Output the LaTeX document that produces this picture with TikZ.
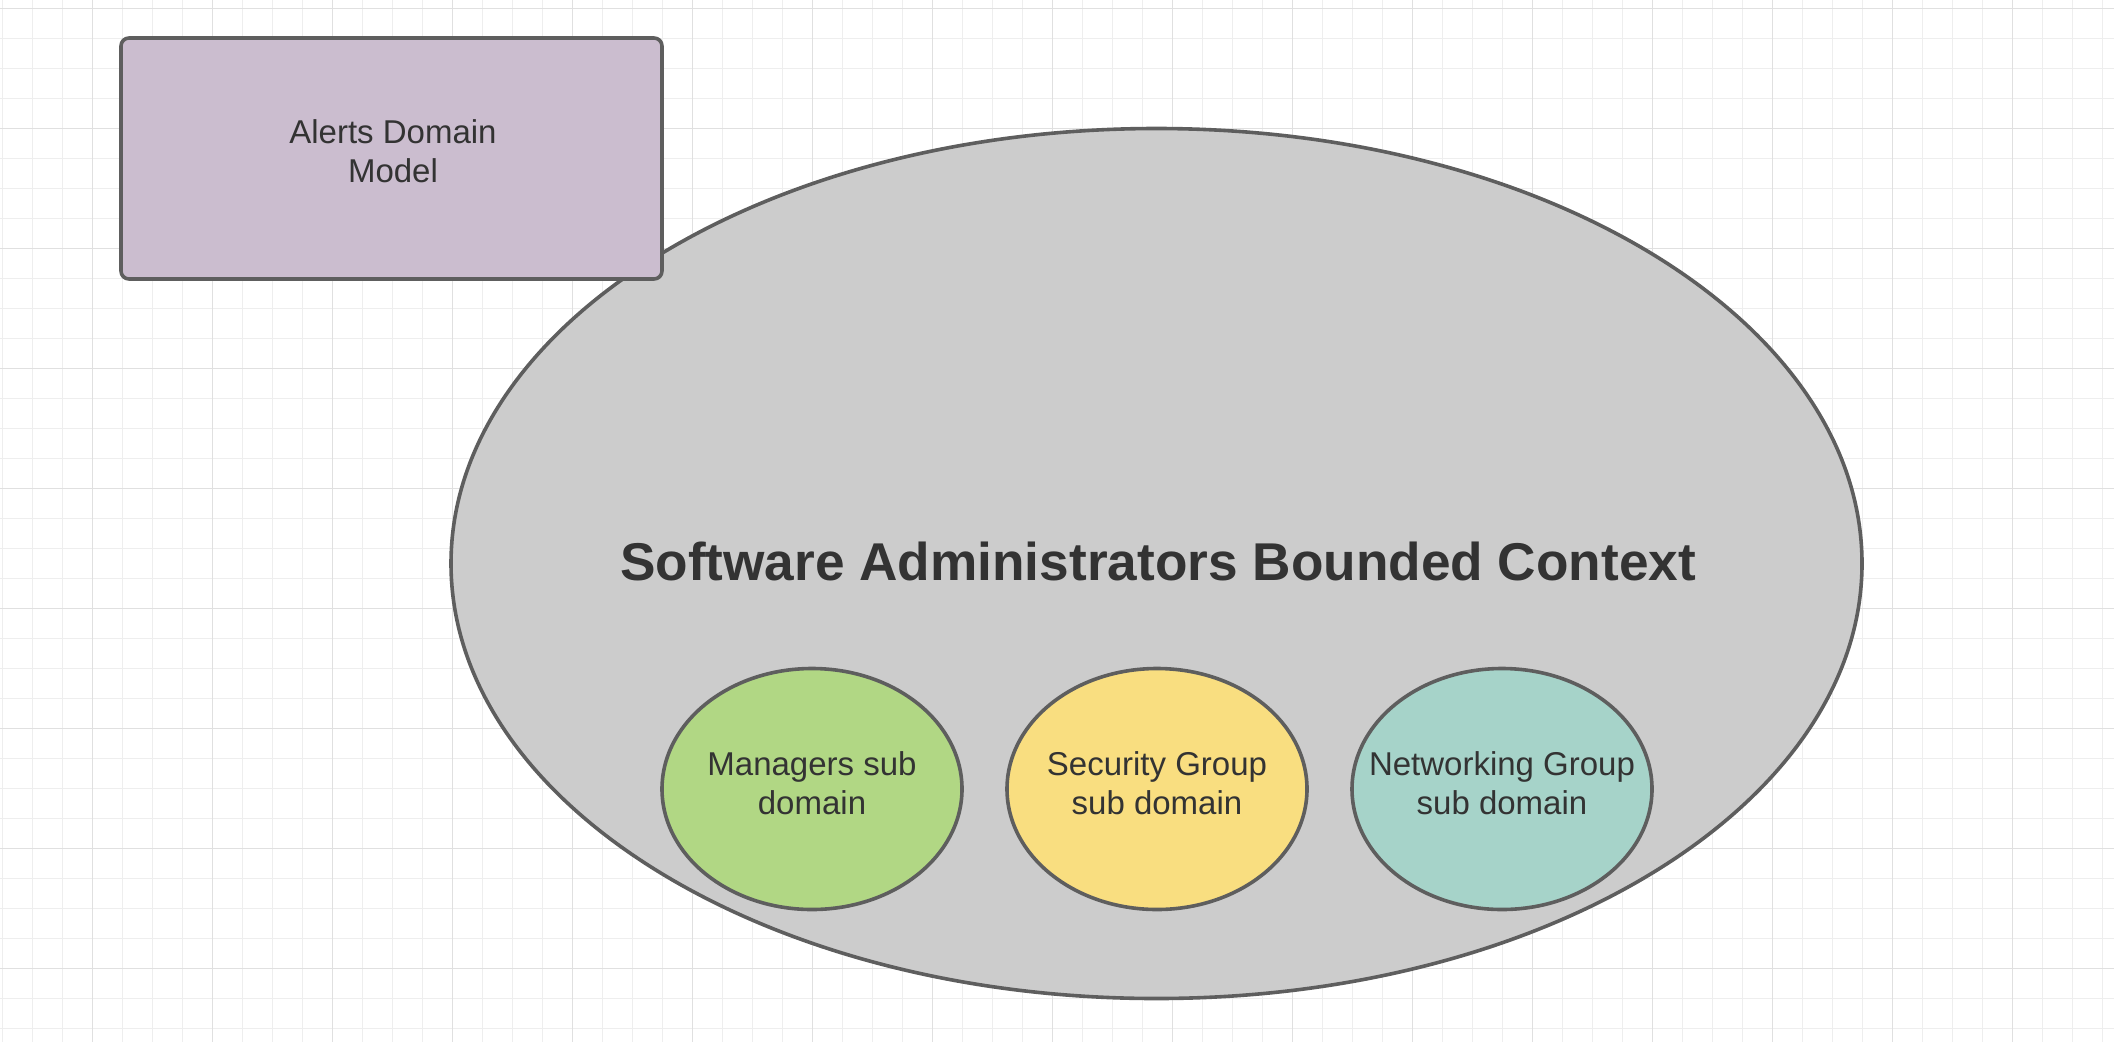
\documentclass[tikz,border=0pt]{standalone}
\usepackage{fontspec}
\setmainfont{Liberation Sans}
\usetikzlibrary{shapes.geometric}
\definecolor{gridminor}{HTML}{EEEEEE}
\definecolor{gridmajor}{HTML}{E0E0E0}
\definecolor{edgegray}{HTML}{5E5E5E}
\definecolor{txtgray}{HTML}{333333}
\definecolor{rectfill}{HTML}{CBBDCF}
\definecolor{bigfill}{HTML}{CCCCCC}
\definecolor{greenfill}{HTML}{B1D784}
\definecolor{yellowfill}{HTML}{F9DE80}
\definecolor{tealfill}{HTML}{A6D3C9}
\tikzset{
  shapeedge/.style={draw=edgegray, line width=3.6pt},
  subdom/.style={shapeedge, ellipse, inner sep=0pt, minimum width=300pt, minimum height=241pt},
  lbl/.style={text=txtgray, align=center, inner sep=0pt, font=\fontsize{33pt}{39pt}\selectfont},
  titlelbl/.style={text=txtgray, inner sep=0pt, font=\fontsize{53.2pt}{62pt}\selectfont\bfseries},
}
\begin{document}
\begin{tikzpicture}[x=1pt, y=-1pt]
\useasboundingbox (0,0) rectangle (2114,1042);
\fill[white] (0,0) rectangle (2114,1042);
% grid
\foreach \i in {0,...,70} {
  \draw[gridminor, line width=1pt] ({2+30*\i},0) -- ({2+30*\i},1042);
}
\foreach \j in {0,...,34} {
  \draw[gridminor, line width=1pt] (0,{8+30*\j}) -- (2114,{8+30*\j});
}
\foreach \i in {0,...,16} {
  \draw[gridmajor, line width=1pt] ({92+120*\i},0) -- ({92+120*\i},1042);
}
\foreach \j in {0,...,8} {
  \draw[gridmajor, line width=1pt] (0,{8+120*\j}) -- (2114,{8+120*\j});
}
% bounded context
\node[shapeedge, ellipse, fill=bigfill, inner sep=0pt, minimum width=1411pt, minimum height=870pt] (ctx) at (1156.5,563.5) {};
\node[titlelbl, anchor=base] (ctxlbl) at (1158,580) {Software Administrators Bounded Context};
% alerts domain model
\node[shapeedge, fill=rectfill, rounded corners=8pt, inner sep=0pt, minimum width=541pt, minimum height=241pt] (alerts) at (391.5,158.5) {};
\node[lbl] (alertslbl) at (393,151) {Alerts Domain\\Model};
% sub domains
\node[subdom, fill=greenfill] (mgr) at (812,789) {};
\node[subdom, fill=yellowfill] (sec) at (1157,789) {};
\node[subdom, fill=tealfill] (net) at (1502,789) {};
\node[lbl] (mgrlbl) at (812,783) {Managers sub\\domain};
\node[lbl] (seclbl) at (1157,783) {Security Group\\sub domain};
\node[lbl] (netlbl) at (1502,783) {Networking Group\\sub domain};
\end{tikzpicture}
\end{document}
